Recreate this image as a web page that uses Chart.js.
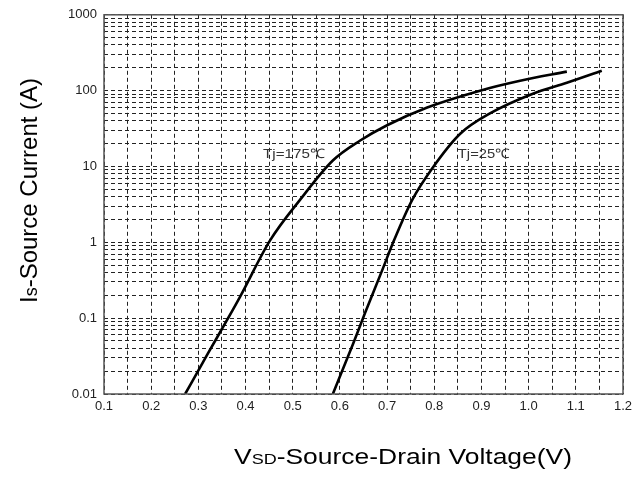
<!DOCTYPE html>
<html>
<head>
<meta charset="utf-8">
<script src="https://cdn.jsdelivr.net/npm/chart.js@4.4.0/dist/chart.umd.min.js"></script>
<style>
  html, body { margin: 0; padding: 0; background: #fff; }
  #wrap { width: 644px; height: 489px; position: relative; }
</style>
</head>
<body>
<div id="wrap"><canvas id="grafico"></canvas></div>
<script>
// ===== Dados =====
const vsd175 = [0.272, 0.32, 0.363, 0.388, 0.452, 0.515, 0.585, 0.643, 0.70, 0.785, 0.897, 0.982, 1.081];
const is175  = [0.01, 0.034, 0.1, 0.19, 1.06, 3.6, 12, 22, 35, 60, 100, 135, 178];

const vsd25 = [0.585, 0.628, 0.653, 0.691, 0.713, 0.753, 0.797, 0.855, 0.918, 1.009, 1.081, 1.155];
const is25  = [0.01, 0.046, 0.116, 0.45, 1.0, 3.6, 9.7, 27, 50, 91, 127, 183];

const xTickLabels = ['0.1', '0.2', '0.3', '0.4', '0.5', '0.6', '0.7', '0.8', '0.9', '1.0', '1.1', '1.2'];
const yTickLabels = ['0.01', '0.1', '1', '10', '100', '1000'];

const curveLabels = ['Tj=175\u2103', 'Tj=25\u2103'];
const labelAnchors = [[0.437, 14.4], [0.850, 14.4]];

// grade: a cada 0.05 V no eixo x, e 1..9 x 10^k no eixo y
const xGrid = [];
for (let i = 0; i <= 22; i++) xGrid.push(Math.round((0.1 + i * 0.05) * 100) / 100);
const yGrid = [];
for (let e = -2; e < 3; e++) {
  for (let m = 1; m <= 9; m++) yGrid.push(Number((m * Math.pow(10, e)).toPrecision(3)));
}
yGrid.push(1000);

const toPoints = (xs, ys) => xs.map((x, i) => ({ x: x, y: ys[i] }));

// escreve partes de texto com tamanhos diferentes, esticando até a largura pedida
function drawParts(ctx, parts, targetW) {
  let w = 0;
  parts.forEach(p => { ctx.font = p[1]; w += ctx.measureText(p[0]).width; });
  if (targetW) ctx.scale(targetW / w, 1);
  let px = 0;
  parts.forEach(p => { ctx.font = p[1]; ctx.fillText(p[0], px, 0); px += ctx.measureText(p[0]).width; });
}

// ===== Plugin: moldura, rótulos das curvas e títulos dos eixos =====
const extras = {
  id: 'extras',
  afterDatasetsDraw(chart) {
    const ctx = chart.ctx;
    const a = chart.chartArea;
    const xs = chart.scales.x, ys = chart.scales.y;

    ctx.save();
    ctx.strokeStyle = '#555';
    ctx.lineWidth = 1.5;
    ctx.setLineDash([]);
    ctx.strokeRect(a.left, a.top, a.right - a.left, a.bottom - a.top);

    // rótulos das curvas
    ctx.fillStyle = '#333';
    ctx.textBaseline = 'middle';
    ctx.textAlign = 'left';
    curveLabels.forEach((t, i) => {
      ctx.save();
      ctx.translate(xs.getPixelForValue(labelAnchors[i][0]), ys.getPixelForValue(labelAnchors[i][1]));
      drawParts(ctx, [[t, '13px "Liberation Sans", Arial, sans-serif']], i === 0 ? 62 : 52);
      ctx.restore();
    });

    // título do eixo x: V + SD (pequeno) + resto
    ctx.fillStyle = '#000';
    ctx.textBaseline = 'alphabetic';
    ctx.save();
    ctx.translate(234, 464);
    drawParts(ctx, [
      ['V', '22px "Liberation Sans", Arial, sans-serif'],
      ['SD', '15px "Liberation Sans", Arial, sans-serif'],
      ['-Source-Drain Voltage(V)', '22px "Liberation Sans", Arial, sans-serif']
    ], 338);
    ctx.restore();

    // título do eixo y: I + s (pequeno) + resto
    ctx.save();
    ctx.translate(37, 303);
    ctx.rotate(-Math.PI / 2);
    drawParts(ctx, [
      ['I', '24px "Liberation Sans", Arial, sans-serif'],
      ['s', '18px "Liberation Sans", Arial, sans-serif'],
      ['-Source Current (A)', '24px "Liberation Sans", Arial, sans-serif']
    ]);
    ctx.restore();
    ctx.restore();
  }
};

const gridStyle = {
  color: '#222',
  lineWidth: 1,
  drawTicks: false
};

new Chart(document.getElementById('grafico').getContext('2d'), {
  type: 'scatter',
  data: {
    datasets: [
      { label: curveLabels[0], data: toPoints(vsd175, is175) },
      { label: curveLabels[1], data: toPoints(vsd25, is25) }
    ].map(d => Object.assign(d, {
      showLine: true,
      borderColor: '#000',
      borderWidth: 2.6,
      pointRadius: 0,
      cubicInterpolationMode: 'monotone',
      fill: false
    }))
  },
  options: {
    responsive: true,
    maintainAspectRatio: false,
    animation: false,
    layout: { padding: { left: 0, top: 14, right: 21, bottom: 0 } },
    plugins: {
      legend: { display: false },
      tooltip: { enabled: false }
    },
    scales: {
      x: {
        type: 'linear',
        min: 0.1,
        max: 1.2,
        afterBuildTicks: s => { s.ticks = xGrid.map(v => ({ value: v })); },
        afterFit: s => { s.height = 95; },
        grid: gridStyle,
        border: { display: false, dash: [4, 3] },
        ticks: {
          autoSkip: false,
          maxRotation: 0,
          padding: 5,
          color: '#222',
          font: { family: '"Liberation Sans", Arial, sans-serif', size: 13 },
          callback: (v, i) => (i % 2 === 0 ? xTickLabels[i / 2] : '')
        }
      },
      y: {
        type: 'logarithmic',
        min: 0.01,
        max: 1000,
        afterBuildTicks: s => { s.ticks = yGrid.map(v => ({ value: v })); },
        afterFit: s => { s.width = 104; },
        grid: gridStyle,
        border: { display: false, dash: [4, 3] },
        ticks: {
          autoSkip: false,
          padding: 7,
          color: '#222',
          font: { family: '"Liberation Sans", Arial, sans-serif', size: 13 },
          callback: (v, i) => (i % 9 === 0 ? yTickLabels[i / 9] : '')
        }
      }
    }
  },
  plugins: [extras]
});
</script>
</body>
</html>
